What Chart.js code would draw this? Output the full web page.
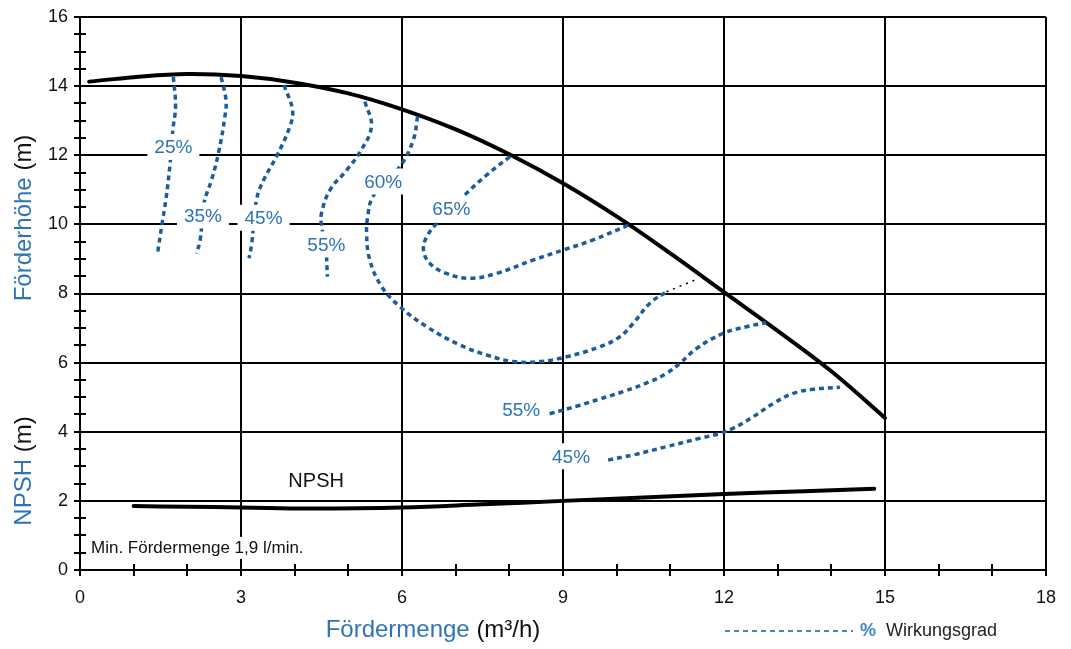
<!DOCTYPE html>
<html>
<head>
<meta charset="utf-8">
<script src="https://cdn.jsdelivr.net/npm/chart.js@4.4.0/dist/chart.umd.min.js"></script>
<style>
body { margin: 0; background: #fff; }
#wrap { width: 1071px; height: 649px; position: relative; }
</style>
</head>
<body>
<div id="wrap"><canvas id="pumpChart"></canvas></div>
<script>
// Förderhöhe (head) curve, x = Fördermenge m3/h, y = m
const headCurve = [[0.17,14.13],[1,14.26],[2,14.35],[3,14.29],[4,14.1],[5,13.79],[6,13.33],[7,12.75],[8,12.03],[9,11.19],[10,10.23],[11,9.16],[12,8.04],[13,6.92],[14,5.75],[15,4.4]];
const npshCurve = [[1,1.85],[2,1.83],[3,1.81],[4.3,1.78],[6,1.81],[7.5,1.9],[9,2.0],[10.5,2.1],[12,2.2],[13.5,2.28],[14.8,2.35]];

// Wirkungsgrad lines
const eff25 = [[1.74,14.27],[1.78,13.41],[1.73,12.73],[1.68,11.78],[1.60,10.71],[1.52,9.93],[1.45,9.21]];
const eff35 = [[2.63,14.26],[2.72,13.6],[2.70,13.12],[2.58,12.06],[2.45,11.28],[2.31,10.61],[2.24,9.55],[2.17,9.16]];
const eff45 = [[3.80,14.03],[3.96,13.31],[3.91,12.83],[3.66,11.96],[3.42,11.28],[3.29,10.71],[3.20,9.45],[3.15,9.02]];
const eff55 = [[5.31,13.55],[5.43,12.83],[5.22,12.10],[4.97,11.57],[4.66,11.0],[4.50,10.32],[4.50,9.98],[4.58,9.3],[4.61,8.49]];
const eff60 = [[6.29,13.12],[6.21,12.44],[5.96,11.67],[5.65,11.24],[5.43,10.71],[5.37,10.32],[5.34,9.74],[5.40,8.97],[5.62,8.20],[5.96,7.62],[6.46,7.04],[7.08,6.51],[7.58,6.22],[8.07,6.03],[8.57,6.03],[9.07,6.17],[9.69,6.46],[10.06,6.75],[10.31,7.14],[10.62,7.72],[10.93,8.05]];
const eff60tail = [[10.93,8.05],[11.46,8.39]];
const eff65 = [[8.01,11.96],[7.58,11.43],[7.17,10.85],[6.93,10.44],[6.65,10.03],[6.46,9.64],[6.40,9.26],[6.52,8.87],[6.83,8.58],[7.27,8.44],[7.76,8.58],[8.45,8.97],[9.01,9.26],[9.56,9.55],[10.22,9.98]];
const eff55low = [[8.75,4.52],[9.3,4.76],[9.69,4.95],[10.12,5.16],[10.62,5.45],[10.93,5.69],[11.18,5.98],[11.49,6.41],[11.99,6.85],[12.42,7.04],[12.79,7.16]];
const eff45low = [[9.84,3.18],[10.31,3.33],[10.93,3.57],[11.55,3.81],[11.92,3.95],[12.17,4.10],[12.55,4.44],[12.92,4.82],[13.29,5.11],[13.66,5.23],[14.16,5.29]];

// labels on the efficiency lines
const effLabelText = ['25%','35%','45%','55%','60%','65%','55%','45%'];
const effLabelX = [1.74, 2.29, 3.42, 4.59, 5.65, 6.92, 8.22, 9.15];
const effLabelY = [12.24, 10.26, 10.19, 9.42, 11.24, 10.44, 4.63, 3.29];

const fontFam = 'Arial, "Liberation Sans", sans-serif';
const effBlue = '#1b5c9c';
const labelBlue = '#2e74b5';

function toXY(pts) { return pts.map(p => ({x: p[0], y: p[1]})); }

function effSet(pts) {
    return {
        data: toXY(pts),
        borderColor: effBlue,
        borderWidth: 3.5,
        borderDash: [5, 4],
        borderCapStyle: 'butt',
        tension: 0.4,
        pointRadius: 0,
        fill: false
    };
}

const deco = {
    id: 'deco',
    afterDatasetsDraw(chart) {
        const ctx = chart.ctx, x = chart.scales.x, y = chart.scales.y;
        ctx.save();
        ctx.font = '19px ' + fontFam;
        ctx.textAlign = 'center';
        ctx.textBaseline = 'middle';
        for (let i = 0; i < effLabelText.length; i++) {
            const px = x.getPixelForValue(effLabelX[i]);
            const py = y.getPixelForValue(effLabelY[i]);
            const w = ctx.measureText(effLabelText[i]).width + 14;
            ctx.fillStyle = '#fff';
            ctx.fillRect(px - w / 2, py - 13, w, 26);
            ctx.fillStyle = labelBlue;
            ctx.fillText(effLabelText[i], px, py + 1);
        }
        ctx.restore();
    },
    afterDraw(chart) {
        const ctx = chart.ctx, x = chart.scales.x, y = chart.scales.y;
        const area = chart.chartArea;
        ctx.save();

        // inner half of the small ticks
        ctx.strokeStyle = '#000';
        ctx.lineWidth = 2;
        ctx.beginPath();
        for (let v = 0.5; v < 16; v += 0.5) {
            if (v % 2 === 0) continue;
            const py = Math.round(y.getPixelForValue(v));
            ctx.moveTo(area.left, py);
            ctx.lineTo(area.left + 6, py);
        }
        for (let v = 1; v < 18; v += 1) {
            if (v % 3 === 0) continue;
            const px = Math.round(x.getPixelForValue(v));
            ctx.moveTo(px, area.bottom);
            ctx.lineTo(px, area.bottom - 6);
        }
        ctx.stroke();

        // text inside plot
        ctx.fillStyle = '#111';
        ctx.textBaseline = 'middle';
        ctx.textAlign = 'center';
        ctx.font = '20px ' + fontFam;
        ctx.fillText('NPSH', x.getPixelForValue(4.4), y.getPixelForValue(2.55));
        ctx.textAlign = 'left';
        ctx.font = '17px ' + fontFam;
        ctx.fillStyle = '#fff';
        ctx.fillRect(area.left + 8, y.getPixelForValue(0.64) - 11, 222, 22);
        ctx.fillStyle = '#111';
        ctx.fillText('Min. Fördermenge 1,9 l/min.', area.left + 11, y.getPixelForValue(0.64));

        // axis titles, two colours each
        ctx.font = '24px ' + fontFam;
        function twoTone(a, b, cx, cy) {
            const wa = ctx.measureText(a).width, wb = ctx.measureText(b).width;
            const start = cx - (wa + wb) / 2;
            ctx.textAlign = 'left';
            ctx.fillStyle = labelBlue;
            ctx.fillText(a, start, cy);
            ctx.fillStyle = '#111';
            ctx.fillText(b, start + wa, cy);
        }
        twoTone('Fördermenge', ' (m³/h)', 433, 630);
        ctx.save();
        ctx.translate(24, 218);
        ctx.rotate(-Math.PI / 2);
        twoTone('Förderhöhe', ' (m)', 0, 0);
        ctx.restore();
        ctx.save();
        ctx.translate(24, 471);
        ctx.rotate(-Math.PI / 2);
        twoTone('NPSH', ' (m)', 0, 0);
        ctx.restore();

        // legend
        ctx.strokeStyle = '#3f86c8';
        ctx.lineWidth = 2;
        ctx.setLineDash([5, 4]);
        ctx.beginPath();
        ctx.moveTo(725, 631);
        ctx.lineTo(853, 631);
        ctx.stroke();
        ctx.setLineDash([]);
        ctx.textAlign = 'left';
        ctx.font = 'bold 18px ' + fontFam;
        ctx.fillStyle = '#3f86c8';
        ctx.fillText('%', 860, 631);
        ctx.font = '18px ' + fontFam;
        ctx.fillStyle = '#222';
        ctx.fillText('Wirkungsgrad', 886, 631);

        ctx.restore();
    }
};

const chart = new Chart(document.getElementById('pumpChart'), {
    type: 'line',
    data: {
        datasets: [
            effSet(eff25), effSet(eff35), effSet(eff45), effSet(eff55),
            effSet(eff60), effSet(eff65), effSet(eff55low), effSet(eff45low),
            { data: toXY(eff60tail), borderColor: '#000', borderWidth: 1.5, borderDash: [2, 5], pointRadius: 0, tension: 0 },
            { data: toXY(headCurve), borderColor: '#000', borderWidth: 4, tension: 0.4, pointRadius: 0, borderCapStyle: 'round' },
            { data: toXY(npshCurve), borderColor: '#000', borderWidth: 4, tension: 0.4, pointRadius: 0, borderCapStyle: 'round' }
        ]
    },
    options: {
        responsive: true,
        maintainAspectRatio: false,
        animation: false,
        layout: { padding: { top: 17, right: 25, left: 0, bottom: 0 } },
        plugins: { legend: { display: false }, tooltip: { enabled: false } },
        scales: {
            x: {
                type: 'linear', min: 0, max: 18,
                afterFit(s) { s.height = 79; },
                border: { color: '#000', width: 2 },
                grid: {
                    lineWidth: 2,
                    color: c => (c.tick && c.tick.value % 3 === 0) ? '#000' : 'rgba(0,0,0,0)',
                    tickColor: '#000', tickLength: 6, tickWidth: 2
                },
                ticks: {
                    stepSize: 1, autoSkip: false, maxRotation: 0, padding: 11,
                    color: '#111', font: { size: 18, family: fontFam },
                    callback: v => v % 3 === 0 ? v : ''
                }
            },
            y: {
                type: 'linear', min: 0, max: 16,
                afterFit(s) { s.width = 80; },
                border: { color: '#000', width: 2 },
                grid: {
                    lineWidth: 2,
                    color: c => (c.tick && c.tick.value % 2 === 0) ? '#000' : 'rgba(0,0,0,0)',
                    tickColor: '#000', tickLength: 6, tickWidth: 2
                },
                ticks: {
                    stepSize: 0.5, autoSkip: false, padding: 6,
                    color: '#111', font: { size: 18, family: fontFam },
                    callback: v => v % 2 === 0 ? v : ''
                }
            }
        }
    },
    plugins: [deco]
});
</script>
</body>
</html>
